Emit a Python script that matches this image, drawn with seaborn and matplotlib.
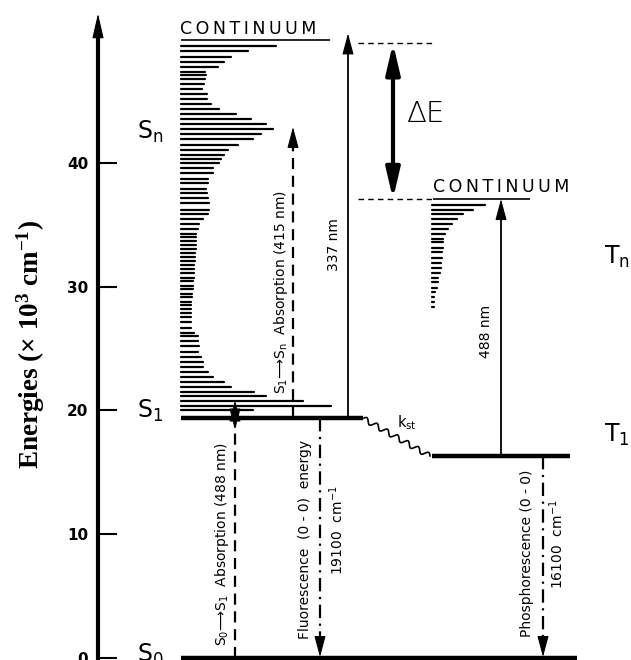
import numpy as np
import pandas as pd
import matplotlib
matplotlib.use("Agg")
import matplotlib.pyplot as plt
import seaborn as sns

# ---------------- data ----------------
tick_values = [0, 10, 20, 30, 40]
tick_labels = ["0", "10", "20", "30", "40"]
axis_label = "Energies (× 10$^{3}$ cm$^{-1}$)"

E_S0 = 0.0
E_S1 = 19.35
E_T1 = 16.3
E_S_CONT = 49.95
E_T_CONT = 37.1
E_DE_TOP = 49.7
E_337_TIP = 50.5
E_SN_ABS_TIP = 42.93
E_S0S1_TIP = 20.8

# singlet vibrational manifold: energy (10^3 cm-1) and relative line length
s_manifold_E = [49.5, 49.1, 48.6, 48.2, 47.8, 47.4, 47.1, 46.8, 46.4, 46.0,
                45.6, 45.2, 44.75, 44.35, 43.95, 43.55, 43.15, 42.75, 42.35, 41.95,
                41.45, 41.1, 40.7, 40.3, 40.0, 39.6, 39.2, 38.7, 38.4, 37.95,
                37.55, 37.15, 36.75, 36.25, 35.85, 35.45, 35.05, 34.65, 34.3, 34.0,
                33.7, 33.35, 33.05, 32.7, 32.4, 32.05, 31.75, 31.4, 31.1, 30.75,
                30.45, 30.1, 29.8, 29.45, 29.15, 28.8, 28.5, 28.2, 27.85, 27.55,
                27.15, 26.7, 26.3, 26.0, 25.6, 25.2, 24.7, 24.3, 23.9, 23.5,
                23.1, 22.7, 22.3, 21.9, 21.45, 21.15, 20.75, 20.35, 20.0]
s_manifold_len = [95, 67, 50, 43, 37, 24, 25, 24, 23, 21,
                  26, 26, 30, 38, 55, 70, 85, 92, 80, 72,
                  57, 47, 43, 40, 38, 32, 32, 27, 27, 25,
                  26, 27, 28, 28, 27, 22, 18, 17, 15, 15,
                  15, 15, 15, 14, 14, 14, 13, 13, 13, 13,
                  12, 12, 12, 11, 11, 10, 10, 10, 10, 10,
                  10, 10, 13, 17, 17, 18, 17, 20, 22, 22,
                  27, 32, 43, 50, 73, 85, 122, 150, 72]

# triplet vibrational manifold
t_manifold_E = [36.65, 36.25, 35.85, 35.45, 35.05, 34.65, 34.3, 33.9, 33.6, 33.1,
                32.8, 32.3, 31.95, 31.5, 31.15, 30.7, 30.35, 29.9, 29.55, 29.15,
                28.75, 28.35]
t_manifold_len = [53, 41, 31, 25, 20, 16, 13, 11, 11, 11,
                  10, 10, 9, 9, 8, 6, 6, 5, 3, 2,
                  2, 1.5]

# ---------------- layout (pixel-like horizontal units) ----------------
PX_PER_E = 12.36
X_AXIS = 98
X_S_START = 181
X_S1_END = 363
X_S0_END = 577
X_T_START = 432
X_T1_END = 570
X_S_CONT_END = 330
X_T_CONT_END = 530
X_DASH_START = 358
X_DASH_END = 433
X_S0S1 = 235
X_SNABS = 293
X_FLUO = 320
X_337 = 348
X_DE = 393
X_488 = 501
X_PHOS = 543

sns.set_theme(style="white")
plt.rcParams["font.family"] = ["DejaVu Sans"]
plt.rcParams["mathtext.fontset"] = "custom"
plt.rcParams["mathtext.rm"] = "Liberation Serif:bold"
plt.rcParams["mathtext.it"] = "Liberation Serif:bold:italic"
plt.rcParams["mathtext.bf"] = "Liberation Serif:bold"

fig = plt.figure(figsize=(6.31, 6.60), dpi=100)
ax = fig.add_axes([X_AXIS / 631, 0, 1 - X_AXIS / 631, 1])

# vibrational manifolds via seaborn
rows = []
for i, (e, l) in enumerate(zip(s_manifold_E, s_manifold_len)):
    rows.append(dict(x=X_S_START, E=e, line=i))
    rows.append(dict(x=X_S_START + l, E=e, line=i))
for j, (e, l) in enumerate(zip(t_manifold_E, t_manifold_len)):
    rows.append(dict(x=X_T_START, E=e, line=1000 + j))
    rows.append(dict(x=X_T_START + l, E=e, line=1000 + j))
df = pd.DataFrame(rows)
sns.lineplot(data=df, x="x", y="E", units="line", estimator=None, sort=False,
             color="black", lw=1.6, ax=ax, legend=False)

K = "black"
# electronic levels
ax.hlines(E_S1, X_S_START, X_S1_END, color=K, lw=3.2)
ax.hlines(E_T1, X_T_START, X_T1_END, color=K, lw=3.2)
ax.hlines(E_S0, X_S_START, X_S0_END, color=K, lw=3.2, clip_on=False)
# continuum lines
ax.hlines(E_S_CONT, X_S_START, X_S_CONT_END, color=K, lw=1.2)
ax.hlines(E_T_CONT, X_DASH_END, X_T_CONT_END, color=K, lw=1.2)
ax.hlines([E_DE_TOP, E_T_CONT], X_DASH_START, X_DASH_END, color=K, lw=1.0,
          linestyles=(0, (4, 3)))


def head(x, y_from, y_to, scale=11, hl=1.2, hw=0.32):
    ax.annotate("", xy=(x, y_to), xytext=(x, y_from),
                arrowprops=dict(arrowstyle=f"-|>,head_length={hl},head_width={hw}",
                                mutation_scale=scale, lw=0.8, color=K,
                                shrinkA=0, shrinkB=0), annotation_clip=False)


# energy axis top arrow head
head(X_AXIS, 50.9, 52.1, scale=12, hl=1.3, hw=0.3)

# 337 nm (solid up)
ax.plot([X_337, X_337], [E_S1, E_337_TIP - 0.6], color=K, lw=1.3)
head(X_337, E_337_TIP - 0.6, E_337_TIP)
# 488 nm (solid up)
ax.plot([X_488, X_488], [E_T1, E_T_CONT - 0.6], color=K, lw=1.3)
head(X_488, E_T_CONT - 0.6, E_T_CONT)
# Delta E double arrow
ax.annotate("", xy=(X_DE, E_DE_TOP), xytext=(X_DE, E_T_CONT),
            arrowprops=dict(arrowstyle="<|-|>,head_length=1.5,head_width=0.35",
                            mutation_scale=12, lw=3.0, color=K,
                            shrinkA=0, shrinkB=0))
# S0 -> S1 absorption (dashed)
ax.plot([X_S0S1, X_S0S1], [E_S0, E_S0S1_TIP - 0.8], color=K, lw=1.6,
        ls=(0, (5, 3)))
head(X_S0S1, E_S0S1_TIP - 0.8, E_S0S1_TIP)
head(X_S0S1, E_S1 + 0.2, E_S1 - 0.9)
# S1 -> Sn absorption (dashed)
ax.plot([X_SNABS, X_SNABS], [E_S1, E_SN_ABS_TIP - 0.8], color=K, lw=1.6,
        ls=(0, (5, 3)))
head(X_SNABS, E_SN_ABS_TIP - 0.8, E_SN_ABS_TIP)
# fluorescence (dash-dot down)
ax.plot([X_FLUO, X_FLUO], [E_S1, E_S0 + 0.9], color=K, lw=1.6,
        ls=(0, (6, 2.5, 1, 2.5)))
head(X_FLUO, E_S0 + 0.9, E_S0 + 0.05)
# phosphorescence (dash-dot down)
ax.plot([X_PHOS, X_PHOS], [E_T1, E_S0 + 0.9], color=K, lw=1.6,
        ls=(0, (6, 2.5, 1, 2.5)))
head(X_PHOS, E_S0 + 0.9, E_S0 + 0.05)

# wavy intersystem crossing line
t = np.linspace(0, 1, 400)
x0, y0 = X_S1_END, E_S1 * PX_PER_E
x1, y1 = X_T_START - 2, E_T1 * PX_PER_E
dx, dy = x1 - x0, y1 - y0
L = np.hypot(dx, dy)
nx, ny = -dy / L, dx / L
amp = 2.6
wx = x0 + t * dx + amp * np.sin(2 * np.pi * 6.5 * t) * nx
wy = (y0 + t * dy + amp * np.sin(2 * np.pi * 6.5 * t) * ny) / PX_PER_E
ax.plot(wx, wy, color=K, lw=1.2)

# ---------------- text ----------------
MF = "dejavusans"
spaced = "\u2009".join("CONTINUUM")
ax.text(180, 50.85, spaced, fontsize=12.5, ha="left", va="center", color=K)
ax.text(433, 38.1, spaced, fontsize=12.5, ha="left", va="center", color=K)
ax.text(406, 44.0, "ΔE", fontsize=21, ha="left", va="center", color=K,
        fontweight="light")

big = dict(fontsize=17, ha="left", va="center", color=K, math_fontfamily=MF)
ax.text(137, 42.5, r"S$_\mathrm{n}$", **big)
ax.text(137, 20.0, r"S$_\mathrm{1}$", **big)
ax.text(137, 0.2, r"S$_\mathrm{0}$", **big)
ax.text(604, 32.4, r"T$_\mathrm{n}$", **big)
ax.text(604, 18.0, r"T$_\mathrm{1}$", **big)

rot = dict(fontsize=10, rotation=90, ha="center", va="center", color=K,
           math_fontfamily=MF)
ax.text(222, 9.2, r"S$_\mathrm{0}$⟶S$_\mathrm{1}$  Absorption (488 nm)", **rot)
ax.text(281, 29.6, r"S$_\mathrm{1}$⟶S$_\mathrm{n}$  Absorption (415 nm)", **rot)
ax.text(305, 9.6, "Fluorescence  (0 - 0)  energy", **rot)
ax.text(337, 10.3, r"19100  cm$^{-1}$", **rot)
ax.text(527, 8.4, "Phosphorescence (0 - 0)", **rot)
ax.text(557, 9.2, r"16100  cm$^{-1}$", **rot)
ax.text(334, 33.4, "337 nm", **rot)
ax.text(486, 26.4, "488 nm", **rot)
ax.text(397, 19.0, r"k$_\mathrm{st}$", fontsize=10.5, ha="left", va="center",
        color=K, math_fontfamily=MF)

# ---------------- axis ----------------
ax.set_xlim(X_AXIS, 631)
ax.set_ylim(-0.19, 53.2)
ax.set_xlabel("")
ax.set_ylabel("")
ax.set_xticks([])
ax.set_yticks(tick_values)
ax.set_yticklabels(tick_labels)
for lab in ax.get_yticklabels():
    lab.set_fontweight("bold")
ax.tick_params(axis="y", direction="in", length=14, width=1.5, pad=7,
               labelsize=11, left=True, colors=K)
for s in ["top", "right", "bottom"]:
    ax.spines[s].set_visible(False)
ax.spines["left"].set_linewidth(3.0)
ax.spines["left"].set_color(K)
ax.spines["left"].set_bounds(-0.19, 51.0)
ax.patch.set_alpha(0)

fig.text(31 / 631, 1 - 345 / 660, axis_label, rotation=90, ha="center",
         va="center", fontsize=19.5, fontfamily="Liberation Serif",
         fontweight="bold", color=K)

fig.savefig("out.png", dpi=100, facecolor="white")
